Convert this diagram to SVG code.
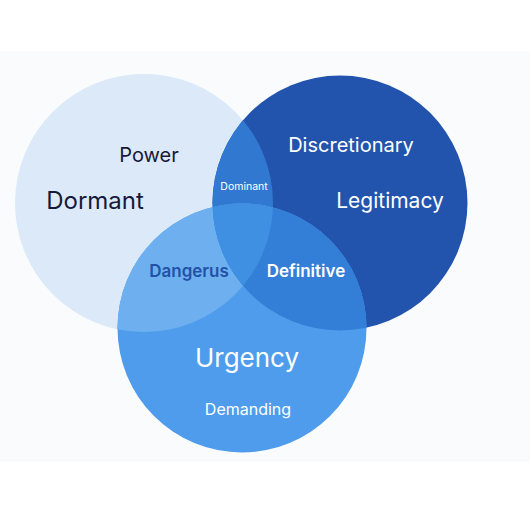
<svg xmlns="http://www.w3.org/2000/svg" width="530" height="530" viewBox="0 0 530 530">
<defs>
<style>
text{font-family:Inter,"Noto Sans","Liberation Sans",sans-serif;text-anchor:middle}
.w{fill:#ffffff}
.d{fill:#16193a}
</style>
<clipPath id="cL"><circle cx="144" cy="203" r="129"/></clipPath>
<clipPath id="cR"><circle cx="340" cy="203" r="127.5"/></clipPath>
</defs>
<rect width="530" height="530" fill="#ffffff"/>
<rect x="0" y="51" width="530" height="411" fill="#f9fbfd"/>
<g id="power"><circle cx="144" cy="203" r="129" fill="#dbe9f8"/></g>
<g id="legitimacy"><circle cx="340" cy="203" r="127.5" fill="#2354ad"/></g>
<g id="overlap-lr" clip-path="url(#cL)"><circle cx="340" cy="203" r="127.5" fill="#3178d1"/></g>
<g id="urgency"><circle cx="242" cy="328" r="124.5" fill="#4f9cec"/></g>
<g id="overlap-lb" clip-path="url(#cL)"><circle cx="242" cy="328" r="124.5" fill="#6eb0ef"/></g>
<g id="overlap-rb" clip-path="url(#cR)"><circle cx="242" cy="328" r="124.5" fill="#337ed7"/></g>
<g id="overlap-all" clip-path="url(#cR)"><g clip-path="url(#cL)"><circle cx="242" cy="328" r="124.5" fill="#3f90e2"/></g></g>
<g id="labels">
<text class="d" x="149" y="162" font-size="20">Power</text>
<text class="d" x="95" y="209" font-size="24">Dormant</text>
<text class="w" x="351" y="152" font-size="20">Discretionary</text>
<text class="w" x="390" y="208" font-size="21">Legitimacy</text>
<text class="w" x="244" y="190" font-size="10.5">Dominant</text>
<text x="189" y="277" font-size="17" font-weight="600" fill="#2252a8">Dangerus</text>
<text class="w" x="306" y="277" font-size="17" font-weight="600">Definitive</text>
<text class="w" x="247" y="367" font-size="26">Urgency</text>
<text class="w" x="248" y="415" font-size="16">Demanding</text>
</g>
</svg>
